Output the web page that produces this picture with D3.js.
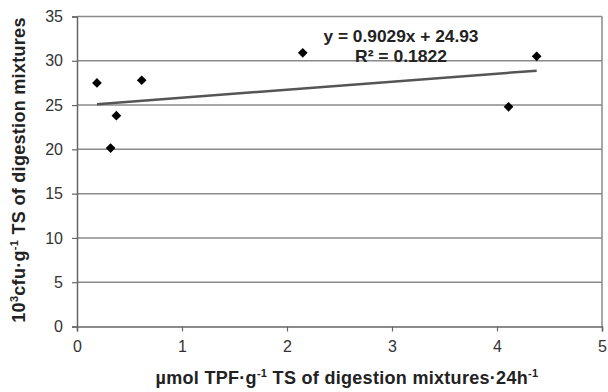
<!DOCTYPE html>
<html><head><meta charset="utf-8">
<script src="https://cdn.jsdelivr.net/npm/d3@7"></script>
<style>body{margin:0;background:#fff}svg{display:block}text{font-family:"Liberation Sans",Arial,sans-serif}</style>
</head><body><svg id="c" width="608" height="392"></svg>
<script>
const xValues = [0.19, 0.32, 0.375, 0.616, 2.15, 4.11, 4.378];
const yValues = [27.5, 20.15, 23.8, 27.8, 30.9, 24.8, 30.5];
const xTicks = [0, 1, 2, 3, 4, 5];
const yTicks = [0, 5, 10, 15, 20, 25, 30, 35];
const slope = 0.9029, intercept = 24.93;
const eqText = "y = 0.9029x + 24.93";
const r2Text = "R² = 0.1822";

const svg = d3.select("#c");
const L = 77, R = 602, T = 16.5, B = 326.5;
const x = d3.scaleLinear().domain([0, 5]).range([L, R]);
const y = d3.scaleLinear().domain([0, 35]).range([B, T]);

// gridlines
svg.append("g").selectAll("line").data(yTicks.filter(d => d > 0)).join("line")
  .attr("x1", L).attr("x2", R).attr("y1", d => y(d)).attr("y2", d => y(d))
  .attr("stroke", "#8a8a8a").attr("stroke-width", 1.5);
svg.append("line").attr("x1", R).attr("x2", R).attr("y1", T).attr("y2", B)
  .attr("stroke", "#8a8a8a").attr("stroke-width", 1.5);

// axes
const ya = svg.append("g").attr("transform", `translate(${L},0)`)
  .call(d3.axisLeft(y).tickValues(yTicks).tickFormat(d3.format("d")).tickSize(5).tickPadding(9));
const xa = svg.append("g").attr("transform", `translate(0,${B})`)
  .call(d3.axisBottom(x).tickValues(xTicks).tickFormat(d3.format("d")).tickSize(5).tickPadding(9));
[ya, xa].forEach(a => {
  a.select(".domain").attr("stroke", "#666").attr("stroke-width", 1.5);
  a.selectAll(".tick line").attr("stroke", "#666").attr("stroke-width", 1.2);
  a.selectAll("text").attr("font-size", 16).attr("fill", "#333")
    .style("font-family", '"Liberation Sans",Arial,sans-serif');
});

// trendline
const x0 = d3.min(xValues), x1 = d3.max(xValues);
svg.append("line").attr("x1", x(x0)).attr("x2", x(x1))
  .attr("y1", y(slope * x0 + intercept)).attr("y2", y(slope * x1 + intercept))
  .attr("stroke", "#555").attr("stroke-width", 2.5);

// points
const data = xValues.map((v, i) => ({x: v, y: yValues[i]}));
svg.append("g").selectAll("path").data(data).join("path")
  .attr("d", d3.symbol(d3.symbolDiamond2, 60))
  .attr("transform", d => `translate(${x(d.x)},${y(d.y)})`)
  .attr("fill", "#000");

// equation
svg.append("text").attr("x", 401).attr("y", 42).attr("text-anchor", "middle")
  .attr("font-size", 17).attr("font-weight", "bold").attr("fill", "#222")
  .attr("textLength", 155).attr("lengthAdjust", "spacingAndGlyphs").text(eqText);
svg.append("text").attr("x", 401).attr("y", 62).attr("text-anchor", "middle")
  .attr("font-size", 17).attr("font-weight", "bold").attr("fill", "#222")
  .attr("textLength", 92).attr("lengthAdjust", "spacingAndGlyphs").text(r2Text);

// axis titles
const yt = svg.append("text").attr("transform", "translate(25,170) rotate(-90)")
  .attr("text-anchor", "middle").attr("font-size", 18).attr("font-weight", "bold")
  .attr("letter-spacing", 0.3).attr("fill", "#222");
yt.append("tspan").text("10");
yt.append("tspan").attr("dy", -7).attr("font-size", 11).text("3");
yt.append("tspan").attr("dy", 7).text("cfu·g");
yt.append("tspan").attr("dy", -7).attr("font-size", 11).text("-1");
yt.append("tspan").attr("dy", 7).text(" TS of digestion mixtures");

const xt = svg.append("text").attr("x", 347).attr("y", 384)
  .attr("text-anchor", "middle").attr("font-size", 18).attr("font-weight", "bold")
  .attr("letter-spacing", 0.3).attr("fill", "#222");
xt.append("tspan").text("µmol TPF·g");
xt.append("tspan").attr("dy", -7).attr("font-size", 11).text("-1");
xt.append("tspan").attr("dy", 7).text(" TS of digestion mixtures·24h");
xt.append("tspan").attr("dy", -7).attr("font-size", 11).text("-1");
</script></body></html>
